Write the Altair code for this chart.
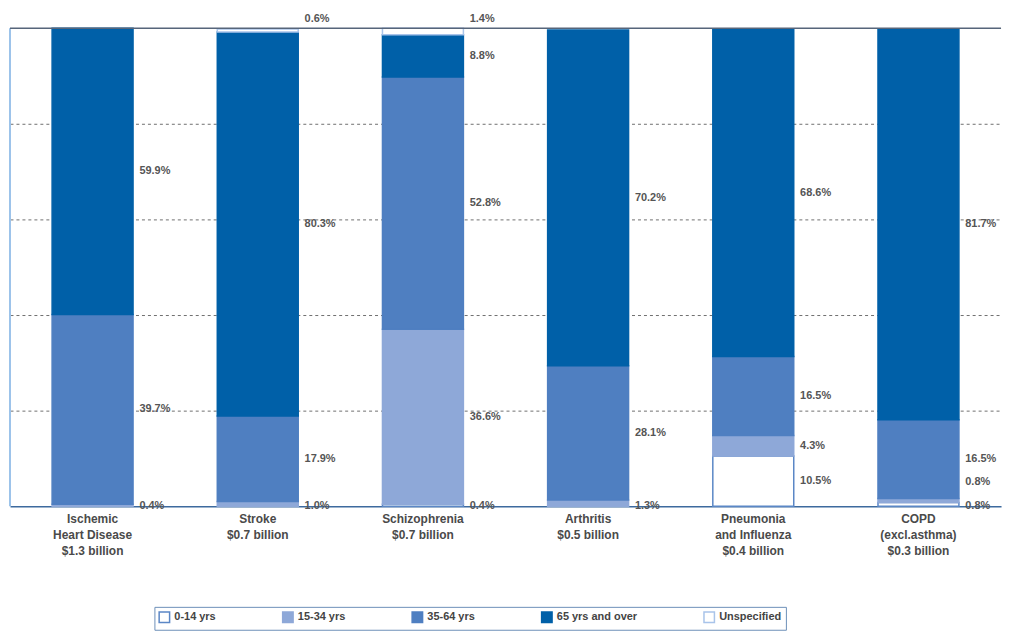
import altair as alt
import pandas as pd

categories = [
    "Ischemic|Heart Disease|$1.3 billion",
    "Stroke|$0.7 billion",
    "Schizophrenia|$0.7 billion",
    "Arthritis|$0.5 billion",
    "Pneumonia|and Influenza|$0.4 billion",
    "COPD|(excl.asthma)|$0.3 billion",
]
groups = ["0-14 yrs", "15-34 yrs", "35-64 yrs", "65 yrs and over", "Unspecified"]
pct_0_14 = [0.0, 0.0, 0.4, 0.0, 10.5, 0.8]
pct_15_34 = [0.4, 1.0, 36.6, 1.3, 4.3, 0.8]
pct_35_64 = [39.7, 17.9, 52.8, 28.1, 16.5, 16.5]
pct_65_over = [59.9, 80.3, 8.8, 70.2, 68.6, 81.7]
pct_unspecified = [0.0, 0.6, 1.4, 0.0, 0.0, 0.0]

fill_colors = ["#ffffff", "#8ea8d8", "#4f7fc1", "#0060a8", "#ffffff"]
stroke_colors = ["#5b87c6", "#8ea8d8", "#4f7fc1", "#0060a8", "#a9c4ea"]

series = [pct_0_14, pct_15_34, pct_35_64, pct_65_over, pct_unspecified]
seg_rows, label_rows = [], []
for i, cat in enumerate(categories):
    cum = 0.0
    k = 0
    for g, vals in zip(groups, series):
        v = vals[i]
        if v <= 0:
            continue
        seg_rows.append({"cat": cat, "group": g, "y0": cum, "y1": cum + v})
        if v < 2:
            if g == "Unspecified":
                ypos = 102.0
            else:
                ypos = 5.0 * k
                k += 1
        else:
            ypos = cum + v / 2
        label_rows.append({"cat": cat, "text": f"{v:.1f}%", "ypos": ypos})
        cum += v

segs = pd.DataFrame(seg_rows)
labels = pd.DataFrame(label_rows)

FONT = "Liberation Sans"
yscale = alt.Scale(domain=[0, 100], nice=False, zero=False)
xscale = alt.Scale(paddingInner=0.51, paddingOuter=0.255)

xenc = alt.X(
    "cat:N",
    sort=categories,
    scale=xscale,
    title=None,
    axis=alt.Axis(
        labelExpr="split(datum.label, '|')",
        labelAngle=0,
        ticks=False,
        labelFontSize=12,
        labelFontWeight="bold",
        labelColor="#4a4a4a",
        labelFont=FONT,
        labelLineHeight=16,
        labelPadding=7,
        domainColor="#3d6a9e",
        domainWidth=1.5,
        grid=False,
    ),
)

legend_def = alt.Legend(
    title=None,
    orient="none",
    legendX=145,
    legendY=581,
    direction="horizontal",
    columns=5,
    symbolType="square",
    symbolSize=110,
    symbolStrokeWidth=1.5,
    labelFontSize=11,
    labelFontWeight="bold",
    labelColor="#444444",
    labelFont=FONT,
    columnPadding=63,
    strokeColor="#6d8fb8",
    fillColor="#ffffff",
    padding=4,
)

bars = alt.Chart(segs).mark_bar(strokeWidth=1.5).encode(
    x=xenc,
    y=alt.Y(
        "y0:Q",
        scale=yscale,
        title=None,
        axis=alt.Axis(
            values=[20, 40, 60, 80],
            labels=False,
            ticks=False,
            domain=False,
            grid=True,
            gridDash=[3, 3],
            gridColor="#6f6f6f",
            gridWidth=1,
        ),
    ),
    y2="y1:Q",
    fill=alt.Fill("group:N", scale=alt.Scale(domain=groups, range=fill_colors), legend=legend_def),
    stroke=alt.Stroke("group:N", scale=alt.Scale(domain=groups, range=stroke_colors), legend=legend_def),
)

top_line = alt.Chart(pd.DataFrame({"y": [100]})).mark_rule(color="#56657a", strokeWidth=1.5).encode(
    y=alt.Y("y:Q", scale=yscale)
)
left_line = alt.Chart(pd.DataFrame({"y": [0]})).mark_rule(color="#9cc3ea", strokeWidth=2).encode(
    x=alt.value(0), y=alt.value(0), y2=alt.value(480)
)

text = alt.Chart(labels).mark_text(
    align="left", baseline="middle", dx=47, fontSize=11, fontWeight="bold", color="#555555", font=FONT
).encode(
    x=alt.X("cat:N", sort=categories, scale=xscale),
    y=alt.Y("ypos:Q", scale=yscale),
    text="text:N",
)

chart = (
    alt.layer(bars, left_line, top_line, text)
    .properties(
        width=995,
        height=480,
        autosize=alt.AutoSizeParams(type="none"),
        padding={"left": 2, "top": 19, "right": 10, "bottom": 125},
    )
    .configure_view(strokeWidth=0)
)

chart.save("out.html", embed_options={"renderer": "svg", "actions": False})
